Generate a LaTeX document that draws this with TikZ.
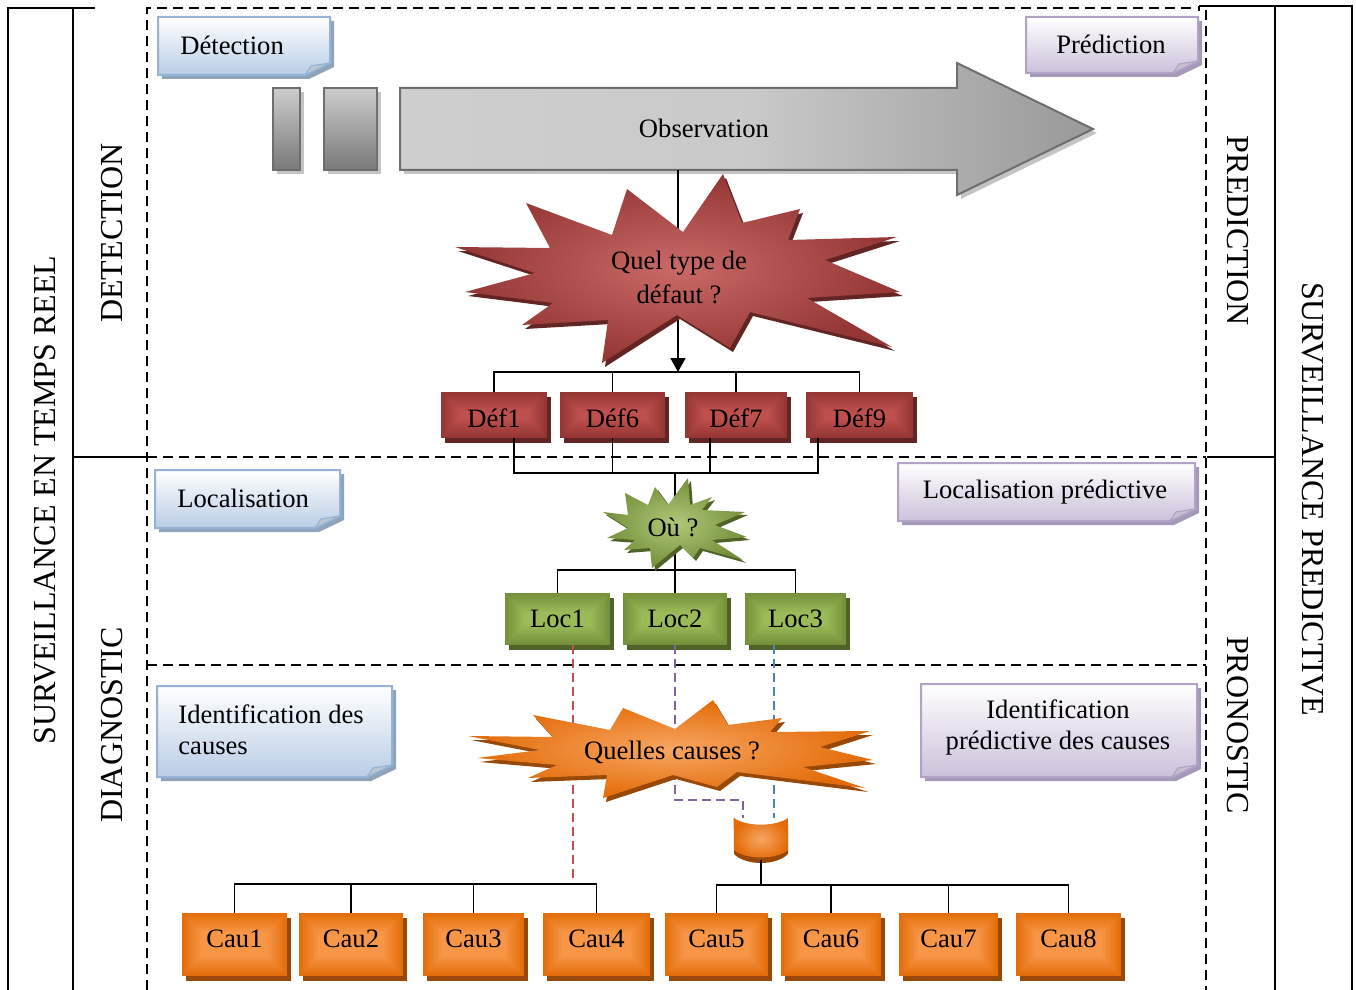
\documentclass[tikz,border=0pt]{standalone}
\usepackage{fontspec}
\setmainfont{Liberation Serif}
\usetikzlibrary{shadows,arrows.meta,calc}

\definecolor{redE}{HTML}{943634}
\definecolor{redC}{HTML}{C0504D}
\definecolor{redS}{HTML}{632523}
\definecolor{grnE}{HTML}{74903A}
\definecolor{grnC}{HTML}{9BBB59}
\definecolor{grnS}{HTML}{4F6228}
\definecolor{orgE}{HTML}{E36C09}
\definecolor{orgC}{HTML}{F79646}
\definecolor{orgS}{HTML}{984807}
\definecolor{bluB}{HTML}{95B3D7}
\definecolor{bluF}{HTML}{B9CDE5}
\definecolor{bluS}{HTML}{8FA3BB}
\definecolor{purB}{HTML}{B3A2C7}
\definecolor{purF}{HTML}{CCC1DA}
\definecolor{purS}{HTML}{A699B7}
\definecolor{lnRed}{HTML}{C0504D}
\definecolor{lnPur}{HTML}{8064A2}
\definecolor{lnBlu}{HTML}{4F81BD}
\definecolor{grayB}{HTML}{6E6E6E}
\definecolor{grayS}{HTML}{C4C4C4}

\tikzset{
  every node/.style={font=\fontsize{13.3}{16}\selectfont},
  sidelabel/.style={font=\fontsize{16}{19}\selectfont, inner sep=0pt},
  plain/.style={inner sep=0pt},
  frameline/.style={line width=0.75pt},
  zonedash/.style={line width=1.1pt, dash pattern=on 5pt off 3pt},
  conn/.style={line width=0.75pt},
  linkdash/.style={line width=1.1pt, dash pattern=on 4.5pt off 2.5pt},
  gradbox/.style n args={3}{inner sep=0pt, outer sep=0pt, fill=#1,
    general shadow={fill=#3, shadow xshift=2pt, shadow yshift=-2.5pt},
    path picture={
      \foreach \k in {1,...,14}{
        \pgfmathtruncatemacro\mixpc{round(\k*100/14)}
        \fill[#2!\mixpc!#1]
          ([shift={(\k*0.68pt,\k*0.68pt)}]path picture bounding box.south west)
          rectangle ([shift={(-\k*0.68pt,-\k*0.68pt)}]path picture bounding box.north east);
      }}},
  defbox/.style={gradbox={redE}{redC}{redS}, minimum height=23pt, text height=12pt, text depth=0pt},
  locbox/.style={gradbox={grnE}{grnC}{grnS}, minimum height=26pt, text height=9pt, text depth=0.5pt},
  caubox/.style={gradbox={orgE}{orgC}{orgS}, minimum height=31.5pt, text height=9pt, text depth=6pt},
}

% note with a folded lower right corner: x1,y1,x2,y2,border,fill,shadow
\newcommand\foldnote[7]{%
  \fill[#7] (#1+4,#2+4) -- (#3+4,#2+4) -- (#3+4,#4+4-12) -- (#3+4-25,#4+4) -- (#1+4,#4+4) -- cycle;
  \shadedraw[top color=white, bottom color=#6, draw=#5, line width=1pt]
    (#1,#2) -- (#3,#2) -- (#3,#4-12) -- (#3-25,#4) -- (#1,#4) -- cycle;
  \filldraw[fill=#6!60!gray!70, draw=#5, line width=0.6pt]
    (#3-25,#4) -- (#3-19,#4-9) -- (#3,#4-12) -- cycle;
}

\def\redstar{(455,247) -- (550,248) -- (526,203) -- (612,235) -- (627,189) -- (683,232) -- (723,174) -- (742,223) -- (800,209) -- (788,240) -- (897,237) -- (825,260) -- (900,292) -- (807,298) -- (892,347) -- (750,312) -- (730,348) -- (677,315) -- (602,363) -- (608,320) -- (522,325) -- (553,303) -- (465,292) -- (535,273) -- cycle}
\def\grnstar{(603,512) -- (628,515) -- (625,493) -- (648,505) -- (655,487) -- (668,505) -- (688,478) -- (690,505) -- (712,497) -- (702,510) -- (745,512) -- (715,525) -- (747,537) -- (712,540) -- (743,560) -- (700,548) -- (693,558) -- (680,545) -- (652,568) -- (650,548) -- (624,550) -- (635,540) -- (607,538) -- (628,528) -- cycle}
\def\orgstar{(468,736) -- (553,737) -- (533,715) -- (610,730) -- (623,708) -- (675,729) -- (713,700) -- (728,725) -- (782,718) -- (770,732) -- (870,731) -- (820,747) -- (873,760) -- (803,767) -- (865,788) -- (737,772) -- (717,787) -- (673,775) -- (603,798) -- (607,775) -- (528,778) -- (557,765) -- (477,758) -- (540,750) -- cycle}

\begin{document}
\begin{tikzpicture}[x=0.5pt, y=-0.5pt]
\useasboundingbox (0,0) rectangle (1356,990);

% ---- outer frames ----
\draw[frameline] (8,990) -- (8,8) -- (95,8);
\draw[frameline] (73,8) -- (73,990);
\draw[frameline] (73,457) -- (147,457);
\draw[frameline] (1199,6) -- (1352,6) -- (1352,990);
\draw[frameline] (1199,6) -- (1199,11);
\draw[frameline] (1275,6) -- (1275,990);
\draw[frameline] (1207,457) -- (1275,457);

\draw[zonedash] (147,990) -- (147,8) -- (1197,8);
\draw[zonedash] (1206,10) -- (1206,990);
\draw[zonedash] (147,457) -- (1206,457);
\draw[zonedash] (147,665) -- (1206,665);

% ---- side titles ----
\node[sidelabel, rotate=90] (sreel) at (45,500) {SURVEILLANCE EN TEMPS REEL};
\node[sidelabel, rotate=90] (ldet) at (112,233) {DETECTION};
\node[sidelabel, rotate=90] (ldiag) at (112,725) {DIAGNOSTIC};
\node[sidelabel, rotate=-90] (lpred) at (1238,231) {PREDICTION};
\node[sidelabel, rotate=-90] (lpron) at (1238,725) {PRONOSTIC};
\node[sidelabel, rotate=-90] (lspred) at (1313,499) {SURVEILLANCE PREDICTIVE};

% ---- folded notes ----
\foldnote{158}{17}{330}{75}{bluB}{bluF}{bluS}
\node[plain, anchor=west] (tdet) at (180,45) {Détection};
\foldnote{1026}{17}{1198}{73}{purB}{purF}{purS}
\node[plain] (tpred) at (1111,44) {Prédiction};
\foldnote{155}{470}{340}{528}{bluB}{bluF}{bluS}
\node[plain, anchor=west] (tloc) at (177,498) {Localisation};
\foldnote{898}{463}{1195}{521}{purB}{purF}{purS}
\node[plain] (tlocp) at (1045,492) {Localisation prédictive};
\foldnote{157}{686}{392}{777}{bluB}{bluF}{bluS}
\node[plain, anchor=west, align=left, font=\fontsize{13.3}{15.5}\selectfont] (tid) at (178,730) {Identification des\\causes};
\foldnote{921}{684}{1197}{777}{purB}{purF}{purS}
\node[plain, align=center, font=\fontsize{13.3}{15.5}\selectfont] (tidp) at (1058,727) {Identification\\prédictive des causes};

% ---- observation arrow ----
\fill[grayS] (277,92) rectangle (304,174);
\fill[grayS] (328,92) rectangle (381,174);
\fill[grayS] (404,92) -- (961,92) -- (961,67) -- (1097,133) -- (961,199) -- (961,174) -- (404,174) -- cycle;
\shadedraw[top color=gray!40, bottom color=gray!95!black, draw=grayB, line width=1pt] (273,88) rectangle (300,170);
\shadedraw[top color=gray!40, bottom color=gray!95!black, draw=grayB, line width=1pt] (324,88) rectangle (377,170);
\shadedraw[left color=gray!38, right color=gray!80, middle color=gray!42, draw=grayB, line width=1pt]
  (400,88) -- (957,88) -- (957,63) -- (1093,129) -- (957,195) -- (957,170) -- (400,170) -- cycle;
\node[plain] (obs) at (704,128) {Observation};

% ---- fault types ----
\node[defbox, minimum width=53pt]   (d1) at (494,415) {Déf1};
\node[defbox, minimum width=52.5pt] (d6) at (612.5,415) {Déf6};
\node[defbox, minimum width=51pt]   (d7) at (736,415) {Déf7};
\node[defbox, minimum width=53.5pt] (d9) at (859.5,415) {Déf9};

\coordinate (obsfoot) at (678,170);
\coordinate (defbus) at (678,372);
\draw[conn, -{Triangle[length=7pt,width=7.5pt]}] (obsfoot) -- (defbus);
\draw[conn] (d1.north) |- (defbus) -| (d9.north);
\draw[conn] (d6.north) -- (d6.north |- defbus);
\draw[conn] (d7.north) -- (d7.north |- defbus);

\fill[redS, shift={(3,4)}] \redstar;
\shade[inner color=redC!85!white, outer color=redE] \redstar;
\node[plain, align=center, font=\fontsize{13.3}{17}\selectfont] (qtype) at (679,277) {Quel type de\\défaut ?};

% ---- locations ----
\node[locbox, minimum width=52.5pt] (l1) at (557.5,619) {Loc1};
\node[locbox, minimum width=52pt]   (l2) at (675,619) {Loc2};
\node[locbox, minimum width=50.5pt] (l3) at (795.5,619) {Loc3};

\coordinate (oubus) at (675,473);
\coordinate (locbus) at (675,570);
\draw[conn] ([xshift=10pt]d1.south) |- (oubus) -| ([xshift=-20.75pt]d9.south);
\draw[conn] (d6.south) -- (d6.south |- oubus);
\draw[conn] ([xshift=-13pt]d7.south) -- ([xshift=-13pt]d7.south |- oubus);
\draw[conn] (oubus) -- (locbus);
\draw[conn] (l1.north) |- (locbus) -| (l3.north);
\draw[conn] (l2.north) -- (locbus);

\fill[grnS, shift={(3,3)}] \grnstar;
\shade[inner color=grnC!80!white, outer color=grnE] \grnstar;
\node[plain] (ou) at (673,527) {Où ?};

% ---- causes ----
\node[inner sep=0pt, minimum width=27pt, minimum height=21pt] (cyl) at (761,839) {};
\coordinate (pturn) at (743,800);
\draw[linkdash, lnRed] ([xshift=7.75pt]l1.south) -- ++(0,234);
\draw[linkdash, lnPur] (l2.south) |- (pturn) -- (pturn |- cyl.north);
\draw[linkdash, lnBlu] ([xshift=-10.75pt]l3.south) -- ([xshift=-10.75pt]l3.south |- cyl.north);

\fill[orgS, shift={(3,4)}] \orgstar;
\shade[inner color=orgC!85!white, outer color=orgE] \orgstar;
\node[plain] (qcause) at (672,752) {Quelles causes ?};

\fill[orgS] (734,823) .. controls (746,832) and (776,832) .. (788,823) -- (788,854) .. controls (776,866) and (746,866) .. (734,854) -- cycle;
\shade[inner color=orgC!85!white, outer color=orgE]
  (cyl.north west) .. controls (745,827) and (777,827) .. (cyl.north east)
  -- (788,850) .. controls (777,860) and (745,860) .. (734,850) -- cycle;

\node[caubox, minimum width=52.5pt] (c1) at (234.5,944.5) {Cau1};
\node[caubox, minimum width=52pt]   (c2) at (351,944.5) {Cau2};
\node[caubox, minimum width=50.5pt] (c3) at (473.5,944.5) {Cau3};
\node[caubox, minimum width=53.5pt] (c4) at (596.5,944.5) {Cau4};
\node[caubox, minimum width=51.5pt] (c5) at (716.5,944.5) {Cau5};
\node[caubox, minimum width=50pt]   (c6) at (831,944.5) {Cau6};
\node[caubox, minimum width=49.5pt] (c7) at (948.5,944.5) {Cau7};
\node[caubox, minimum width=52.5pt] (c8) at (1068.5,944.5) {Cau8};

\coordinate (cauL) at (573,884);
\coordinate (cauR) at (761,885);
\draw[conn] (c1.north) |- (cauL) -| (c4.north);
\draw[conn] (c2.north) -- (c2.north |- cauL);
\draw[conn] (c3.north) -- (c3.north |- cauL);
\draw[conn] (cyl.south) -- (cauR);
\draw[conn] (c5.north) |- (cauR) -| (c8.north);
\draw[conn] (c6.north) -- (c6.north |- cauR);
\draw[conn] (c7.north) -- (c7.north |- cauR);
\end{tikzpicture}
\end{document}
